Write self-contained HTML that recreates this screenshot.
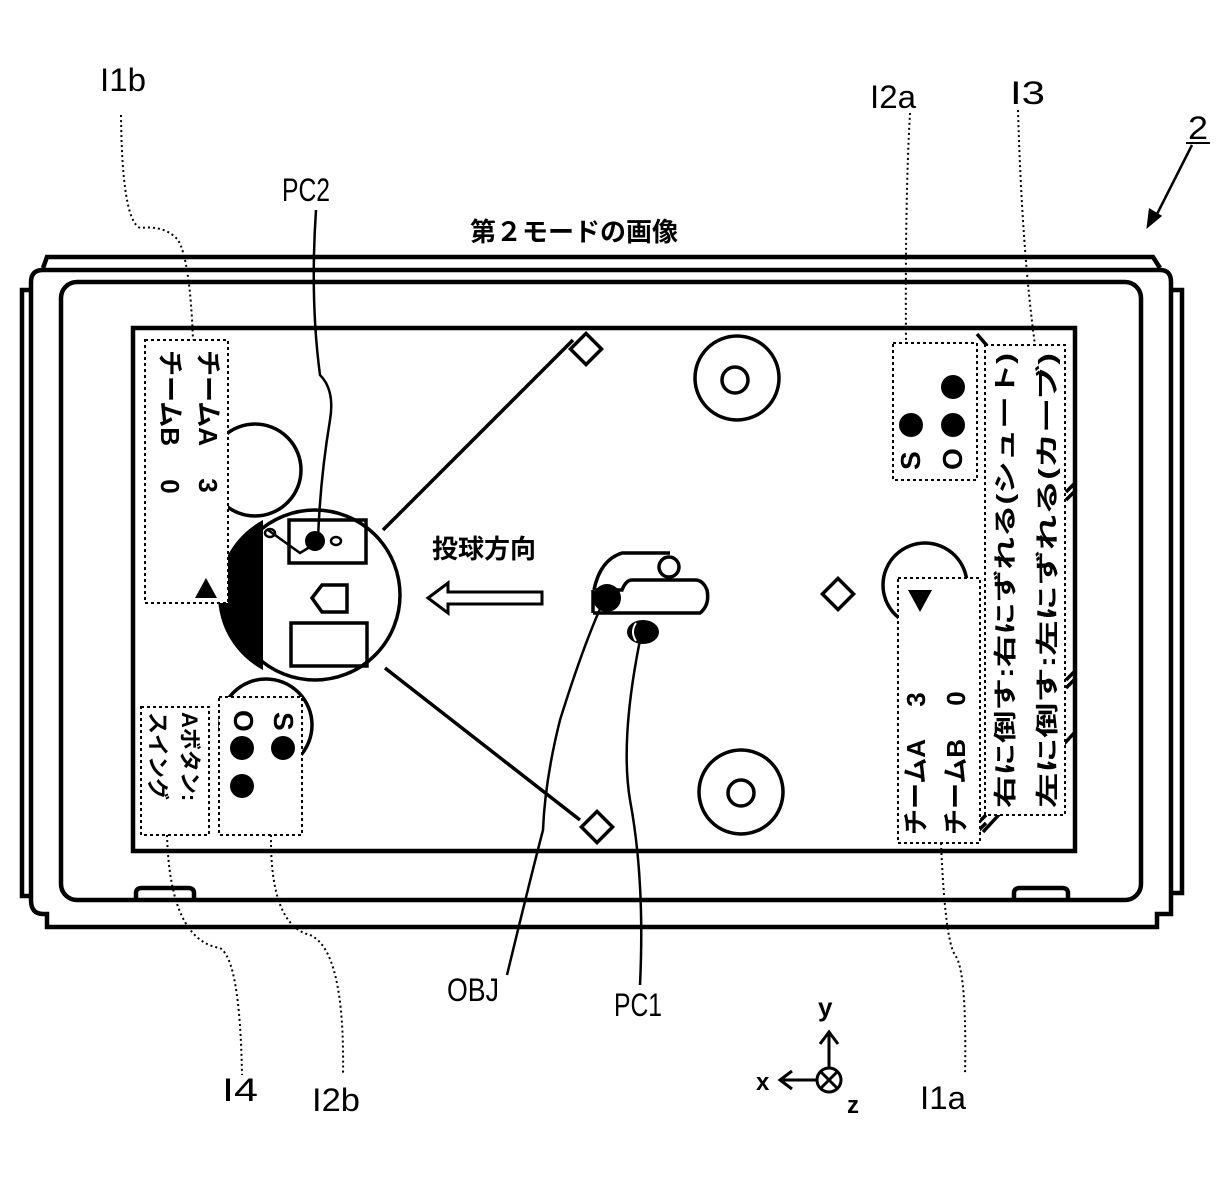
<!DOCTYPE html>
<html><head><meta charset="utf-8"><style>
html,body{margin:0;padding:0;background:#fff}
svg{display:block}
text{font-family:"Liberation Sans","Noto Sans CJK JP",sans-serif;fill:#000}
</style></head><body>
<svg width="1228" height="1181" viewBox="0 0 1228 1181" xmlns="http://www.w3.org/2000/svg">
<g fill="none" stroke="#000" stroke-width="4.5">
<path d="M43,268 L47,257 L1153,257 L1160,268"/>
<path d="M31,900 L31,282 Q31,270 43,270 L1160,270 Q1171,270 1171,282 L1171,914 L1157,914 L1157,927 L47,927 L47,914 L43,914 Q31,914 31,900"/>
<path d="M31,290 L22,290 L22,896 L31,896"/>
<path d="M1171,290 L1182,290 L1182,893 L1171,893"/>
<rect x="61" y="282" width="1080" height="618" rx="16"/>
<path d="M136,900 L136,893 Q136,888 142,888 L188,888 Q194,888 194,893 L194,900"/>
<path d="M1014,900 L1014,893 Q1014,888 1020,888 L1062,888 Q1068,888 1068,893 L1068,900"/>
<rect x="133" y="328" width="942" height="523"/>
</g>
<g fill="none" stroke="#000" stroke-width="3.5">
<line x1="573" y1="340" x2="383" y2="530"/>
<line x1="580" y1="820" x2="385" y2="668"/>
<rect x="575" y="338" width="22" height="22" transform="rotate(45 586 349)" fill="#fff"/>
<rect x="586" y="816" width="22" height="22" transform="rotate(45 597 827)" fill="#fff"/>
<rect x="827" y="583" width="22" height="22" transform="rotate(45 838 594)"/>
<circle cx="737" cy="378" r="42"/><circle cx="735" cy="380" r="13"/>
<circle cx="741" cy="792" r="42"/><circle cx="741" cy="793" r="13"/>
<circle cx="925" cy="585" r="42"/>
<circle cx="255" cy="470" r="46"/>
<circle cx="266" cy="725" r="46"/>
<line x1="1075" y1="732" x2="983" y2="832"/>
<line x1="977" y1="334" x2="989" y2="348"/>
<path d="M1066,492 l8,-8 M1066,500 l8,-8 M1066,680 l8,-8 M1066,688 l8,-8 M978,823 l8,-8 M978,831 l8,-8"/>
</g>
<circle cx="315" cy="595" r="85" fill="#fff" stroke="#000" stroke-width="3.5"/>
<path d="M263,520 A85,85 0 0 0 263,670 Z" fill="#000"/>
<path d="M244,535 L263,520 L263,670 L252,662 Z" fill="#000"/>
<g fill="none" stroke="#000" stroke-width="3.5">
<rect x="289" y="520" width="77" height="43"/>
<path d="M312,598 L322,585 L347,585 L347,612 L322,612 Z"/>
<rect x="291" y="623" width="76" height="43"/>
<path d="M268,530 L300,553 L313,545" stroke-width="2.5"/>
<ellipse cx="270" cy="533" rx="5" ry="4" stroke-width="2.5"/>
<ellipse cx="336" cy="541" rx="5" ry="4" stroke-width="2.5"/>
</g>
<circle cx="315" cy="541" r="10" fill="#000"/>
<text x="432" y="558" font-size="26" font-weight="bold">投球方向</text>
<path d="M428,598 L448,583 L448,592 L542,592 L542,604 L448,604 L448,613 Z" fill="#fff" stroke="#000" stroke-width="3"/>
<g fill="none" stroke="#000" stroke-width="3.5">
<path d="M593,613 L700,613 Q710,605 707,590 Q703,580 695,580 L632,580 Q626,580 622,590 L596,590"/>
<path d="M594,590 Q600,560 622,553 L670,553"/>
<path d="M593,590 L593,613"/>
<circle cx="669" cy="567" r="10" fill="#fff"/>
</g>
<circle cx="607" cy="598" r="14" fill="#000"/>
<ellipse cx="643" cy="632" rx="16" ry="12" fill="#000"/>
<path d="M636,623 Q630,632 636,641" stroke="#fff" stroke-width="2" fill="none"/>
<g fill="#fff" stroke="#000" stroke-width="2" stroke-dasharray="3,3">
<rect x="145" y="340" width="83" height="263"/>
<rect x="219" y="697" width="83" height="138"/>
<rect x="141" y="707" width="68" height="128"/>
<rect x="893" y="343" width="84" height="137"/>
<rect x="985" y="345" width="80" height="470"/>
<rect x="898" y="578" width="82" height="265"/>
</g>
<g font-size="26" font-weight="bold">
<text transform="translate(199,350) rotate(90)">チームA　  3</text>
<text transform="translate(161,350) rotate(90)">チームB　  0</text>
</g>
<polygon points="195,598 206,578 217,598" fill="#000"/>
<text transform="translate(274,712) rotate(90)" font-size="28" font-weight="bold">S</text>
<text transform="translate(234,710) rotate(90)" font-size="28" font-weight="bold">O</text>
<circle cx="283" cy="748" r="12" fill="#000"/>
<circle cx="242" cy="748" r="12" fill="#000"/>
<circle cx="242" cy="786" r="12" fill="#000"/>
<g font-size="22" font-weight="bold">
<text transform="translate(182,712) rotate(90)">Aボタン:</text>
<text transform="translate(150,712) rotate(90)">スイング</text>
</g>
<text transform="translate(920,470) rotate(-90)" font-size="28" font-weight="bold">S</text>
<text transform="translate(962,470) rotate(-90)" font-size="28" font-weight="bold">O</text>
<circle cx="911" cy="425" r="12" fill="#000"/>
<circle cx="953" cy="425" r="12" fill="#000"/>
<circle cx="953" cy="387" r="12" fill="#000"/>
<g font-size="23" font-weight="bold">
<text transform="translate(1013,808) rotate(-90)" textLength="455" lengthAdjust="spacingAndGlyphs">右に倒す:右にずれる(シュート)</text>
<text transform="translate(1055,808) rotate(-90)" textLength="455" lengthAdjust="spacingAndGlyphs">左に倒す:左にずれる(カーブ)</text>
</g>
<g font-size="26" font-weight="bold">
<text transform="translate(925,835) rotate(-90)">チームA　  3</text>
<text transform="translate(965,835) rotate(-90)">チームB　  0</text>
</g>
<polygon points="908,590 932,590 920,612" fill="#000"/>
<g fill="none" stroke="#000" stroke-width="2" stroke-dasharray="2,3">
<path d="M121,115 Q122,220 140,228 Q165,225 178,240 Q190,260 193,340"/>
<path d="M910,113 Q905,200 906,343"/>
<path d="M1018,110 Q1022,250 1035,345"/>
<path d="M167,835 Q170,940 220,948 Q240,960 242,1075"/>
<path d="M271,835 Q270,925 310,935 Q345,950 343,1075"/>
<path d="M941,843 Q945,940 955,955 Q967,970 965,1075"/>
</g>
<g fill="none" stroke="#000" stroke-width="2.5">
<path d="M316,210 Q310,300 320,375 Q335,390 330,420 Q320,480 318,540"/>
<path d="M507,975 Q530,880 543,830 Q545,780 560,720 Q585,640 605,598"/>
<path d="M640,985 Q645,880 630,800 Q620,740 640,640"/>
<path d="M1192,145 L1153,222"/>
<polygon points="1148,226 1150,210 1160,216" fill="#000"/>
</g>
<g font-size="32">
<text x="100" y="91" textLength="46" lengthAdjust="spacingAndGlyphs">I1b</text>
<text x="282" y="201" textLength="48" lengthAdjust="spacingAndGlyphs">PC2</text>
<text x="870" y="108" textLength="46" lengthAdjust="spacingAndGlyphs">I2a</text>
<text x="1010" y="104" textLength="35" lengthAdjust="spacingAndGlyphs">I3</text>
<text x="1188" y="139" textLength="20" lengthAdjust="spacingAndGlyphs">2</text>
<text x="447" y="1001" textLength="52" lengthAdjust="spacingAndGlyphs">OBJ</text>
<text x="614" y="1016" textLength="48" lengthAdjust="spacingAndGlyphs">PC1</text>
<text x="222" y="1101" textLength="36" lengthAdjust="spacingAndGlyphs">I4</text>
<text x="312" y="1111" textLength="48" lengthAdjust="spacingAndGlyphs">I2b</text>
<text x="920" y="1109" textLength="46" lengthAdjust="spacingAndGlyphs">I1a</text>
</g>
<line x1="1186" y1="143" x2="1210" y2="143" stroke="#000" stroke-width="2"/>
<text x="470" y="241" font-size="26" font-weight="bold">第２モードの画像</text>
<g fill="none" stroke="#000" stroke-width="3">
<line x1="829" y1="1068" x2="829" y2="1034"/>
<path d="M820,1044 L829,1032 L838,1044"/>
<line x1="817" y1="1080" x2="782" y2="1080"/>
<path d="M792,1071 L780,1080 L792,1089"/>
<circle cx="829" cy="1080" r="12"/>
<path d="M821,1072 L837,1088 M837,1072 L821,1088"/>
</g>
<text x="818" y="1016" font-size="26" font-weight="bold">y</text>
<text x="756" y="1090" font-size="24" font-weight="bold">x</text>
<text x="847" y="1113" font-size="24" font-weight="bold">z</text>
</svg>
</body></html>
